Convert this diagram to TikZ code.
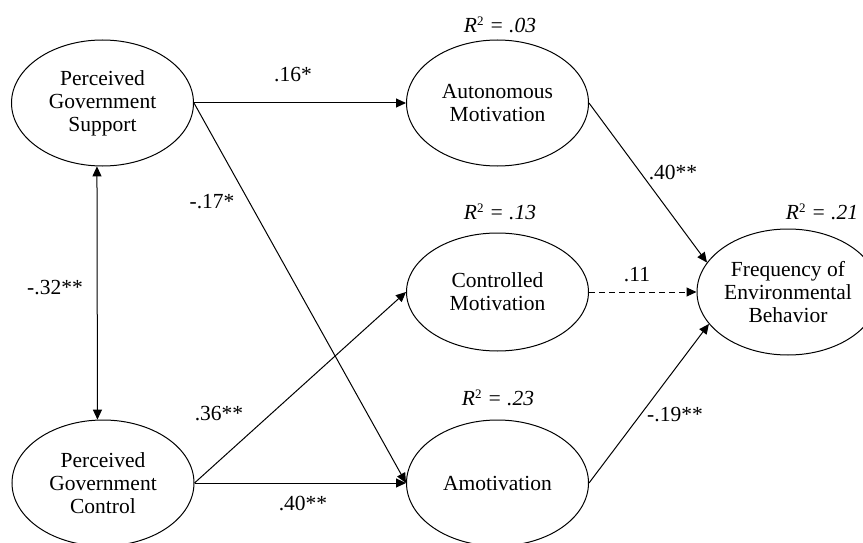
\documentclass[tikz,border=0pt]{standalone}
\usepackage{fontspec}
\setmainfont{Liberation Serif}
\usetikzlibrary{arrows.meta,shapes.geometric}
\begin{document}
\begin{tikzpicture}[x=1pt,y=-1pt,
  every node/.style={font=\fontsize{21.5}{23}\selectfont},
  latent/.style={ellipse,draw,line width=1pt,inner sep=0pt,align=center,minimum width=182pt,minimum height=126pt},
  path/.style={line width=1pt,-{Triangle[length=10pt,width=9pt]}},
  both/.style={line width=1pt,{Triangle[length=10pt,width=9pt]}-{Triangle[length=10pt,width=9pt]}},
  coef/.style={inner sep=0pt},
  rsq/.style={inner sep=0pt,font=\fontsize{21.5}{23}\selectfont\itshape}]
\useasboundingbox (0,0) rectangle (863,543);
\begin{scope}
\clip (0,0) rectangle (863,543);
\node[latent] (pgs) at (102.5,103) {Perceived\\Government\\Support};
\node[latent] (pgc) at (103,483) {Perceived\\Government\\Control};
\node[latent] (am) at (497.5,103) {Autonomous\\Motivation};
\node[latent,minimum height=118pt] (cm) at (497.5,292) {Controlled\\Motivation};
\node[latent] (amo) at (497.5,483) {Amotivation};
\node[latent] (feb) at (788,292) {Frequency of\\Environmental\\Behavior};

\node[rsq] (r1) at (500,25) {R\textsuperscript{\upshape\fontsize{13}{13}\selectfont 2} = .03};
\node[rsq] (r2) at (500,212) {R\textsuperscript{\upshape\fontsize{13}{13}\selectfont 2} = .13};
\node[rsq] (r3) at (498,398) {R\textsuperscript{\upshape\fontsize{13}{13}\selectfont 2} = .23};
\node[rsq] (r4) at (822,212) {R\textsuperscript{\upshape\fontsize{13}{13}\selectfont 2} = .21};

\draw[path] (pgs.east) -- (am.west);
\draw[path] (pgs.east) -- (amo.west);
\draw[path] (pgc.east) -- (cm.west);
\draw[path] (pgc.east) -- (amo.west);
\draw[path] (am.east) -- (feb.160);
\draw[path,dash pattern=on 6pt off 4pt] (cm.east) -- (feb.west);
\draw[path] (amo.east) -- (feb.202);
\draw[both] (pgs.265) -- (pgc.95);

\node[coef] (c1) at (293,75) {.16*};
\node[coef] (c2) at (212,202) {-.17*};
\node[coef] (c3) at (219,414) {.36**};
\node[coef] (c4) at (303,504) {.40**};
\node[coef] (c5) at (673,173) {.40**};
\node[coef] (c6) at (637,275) {.11};
\node[coef] (c7) at (675,415) {-.19**};
\node[coef] (c8) at (55,288) {-.32**};
\end{scope}
\end{tikzpicture}
\end{document}
